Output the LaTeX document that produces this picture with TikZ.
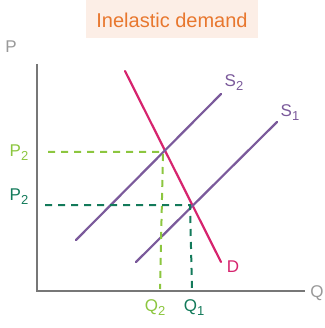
\documentclass[tikz,border=0pt]{standalone}
\usepackage{fontspec}
\setmainfont{Liberation Sans}
\definecolor{axisgrey}{HTML}{777777}
\definecolor{labgrey}{HTML}{999999}
\definecolor{demandc}{HTML}{D6246E}
\definecolor{supplyc}{HTML}{7B5A9B}
\definecolor{lgreen}{HTML}{8CC63F}
\definecolor{dgreen}{HTML}{137A5A}
\definecolor{titlebg}{HTML}{FCEEE6}
\definecolor{titlefg}{HTML}{E8772E}
\newcommand{\lsub}[1]{\raisebox{-4pt}{\fontsize{13}{13}\selectfont #1}}
\begin{document}
\begin{tikzpicture}[x=1pt,y=-1pt,
  axisline/.style={draw=axisgrey,line width=2.6pt},
  curve/.style={line width=2.2pt,line cap=round},
  guide/.style={line width=2pt,dash pattern=on 7pt off 6pt},
  lab/.style={font=\fontsize{17}{17}\selectfont,inner sep=0pt}]
\useasboundingbox (0,0) rectangle (324,328);
\fill[titlebg] (86,0) rectangle (258,38);
\node[font=\fontsize{20}{20}\selectfont,text=titlefg] (title) at (172,20) {Inelastic demand};
% axes
\coordinate (origin) at (37,291);
\coordinate (ytop) at (37,64);
\coordinate (xend) at (305,291);
\draw[axisline] (ytop) -- (origin) -- (xend);
\node[lab,text=labgrey] (plab) at (11,47) {P};
\node[lab,text=labgrey] (qlab) at (317,293) {Q};
% curves
\coordinate (d1) at (125,71);
\coordinate (d2) at (221,262);
\coordinate (s2a) at (76,240);
\coordinate (s2b) at (221,94);
\coordinate (s1a) at (136,262);
\coordinate (s1b) at (277,122);
\coordinate (e2) at (163,152);
\coordinate (e1) at (190,205);
\draw[curve,demandc] (d1) -- (d2);
\draw[curve,supplyc] (s2a) -- (s2b);
\draw[curve,supplyc] (s1a) -- (s1b);
\node[lab,text=demandc] (dlab) at (233,267) {D};
\node[lab,text=supplyc] (s2lab) at (234,83) {S\lsub{2}};
\node[lab,text=supplyc] (s1lab) at (290,113) {S\lsub{1}};
% guides
\coordinate (p2l) at (48,152);
\coordinate (q2b) at (160,289);
\coordinate (p1l) at (45,205);
\coordinate (q1b) at (192,290);
\draw[guide,lgreen] (p2l) -- (e2) -- (q2b);
\draw[guide,dgreen] (p1l) -- (e1) -- (q1b);
\node[lab,text=lgreen] (p2lab) at (19,153) {P\lsub{2}};
\node[lab,text=dgreen] (p1lab) at (19,197) {P\lsub{2}};
\node[lab,text=lgreen] (q2lab) at (155,308) {Q\lsub{2}};
\node[lab,text=dgreen] (q1lab) at (194,308) {Q\lsub{1}};
\end{tikzpicture}
\end{document}
